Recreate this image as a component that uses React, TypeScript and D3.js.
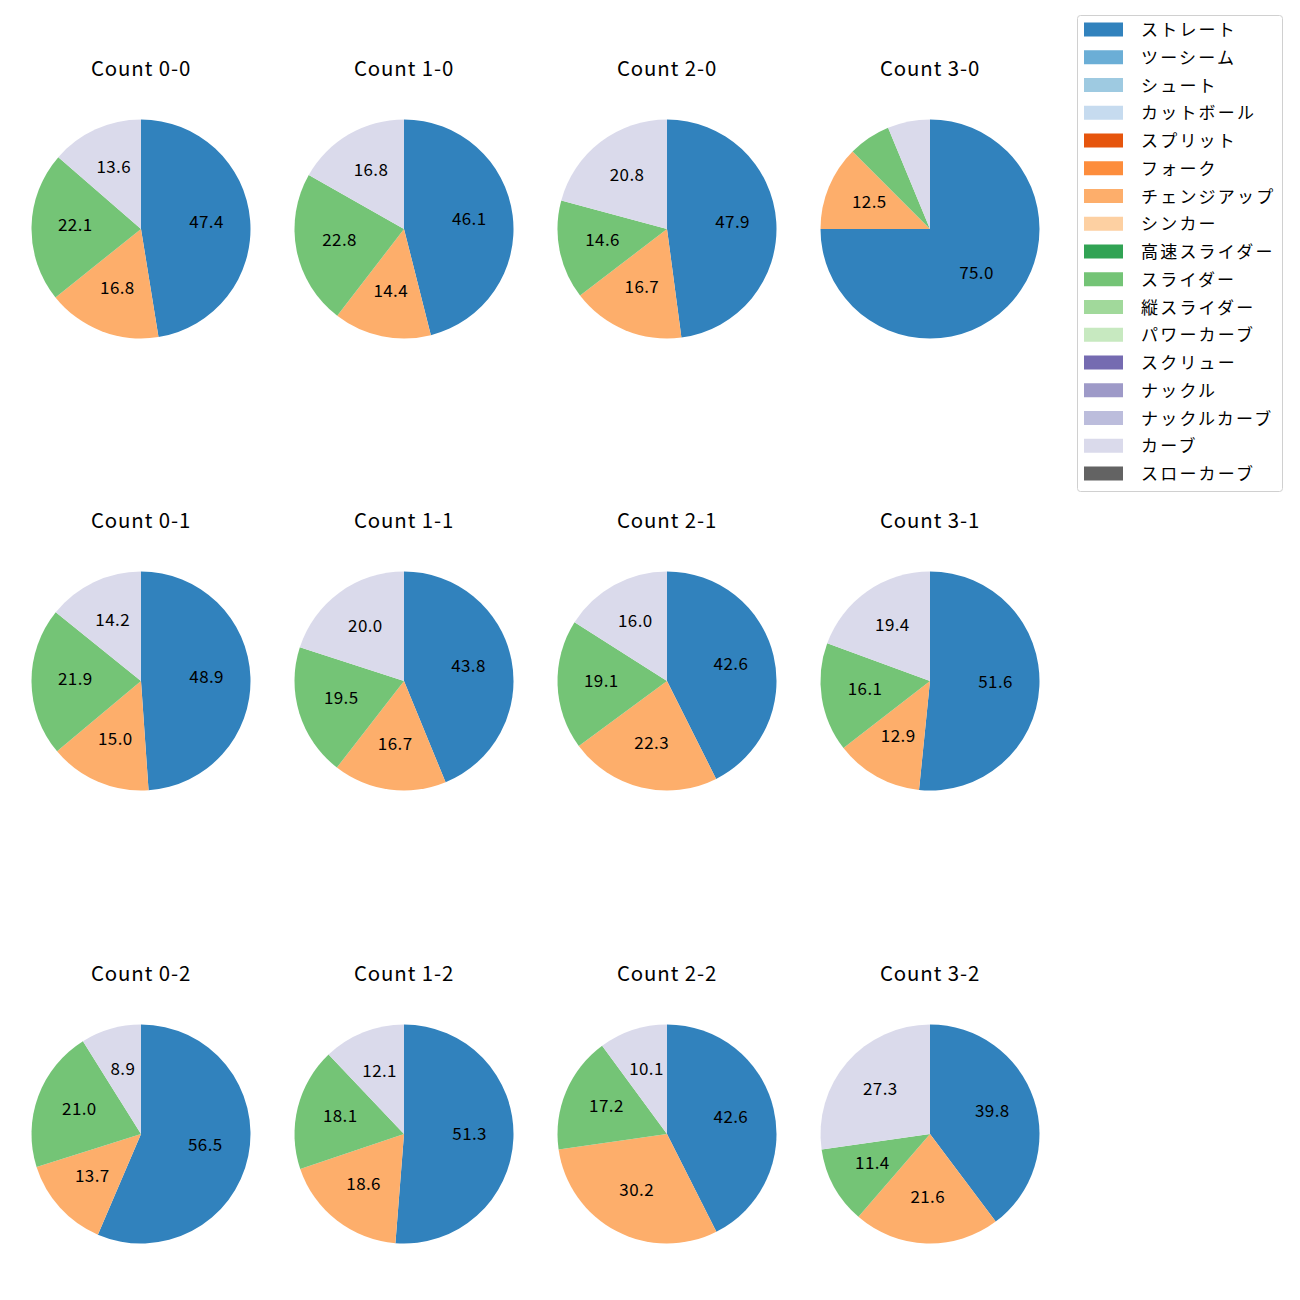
import React, { useEffect } from "react";
import * as d3 from "d3";

const pitchTypes = [
  "ストレート", "ツーシーム", "シュート", "カットボール", "スプリット", "フォーク",
  "チェンジアップ", "シンカー", "高速スライダー", "スライダー", "縦スライダー",
  "パワーカーブ", "スクリュー", "ナックル", "ナックルカーブ", "カーブ", "スローカーブ",
];
const pitchColors = [
  "#3182bd", "#6baed6", "#9ecae1", "#c6dbef", "#e6550d", "#fd8d3c",
  "#fdae6b", "#fdd0a2", "#31a354", "#74c476", "#a1d99b", "#c7e9c0",
  "#756bb1", "#9e9ac8", "#bcbddc", "#dadaeb", "#636363",
];

const usedTypes = ["ストレート", "チェンジアップ", "スライダー", "カーブ"];
const countTitles = [
  "Count 0-0", "Count 1-0", "Count 2-0", "Count 3-0",
  "Count 0-1", "Count 1-1", "Count 2-1", "Count 3-1",
  "Count 0-2", "Count 1-2", "Count 2-2", "Count 3-2",
];
const straightPct = [47.4, 46.1, 47.9, 75.0, 48.9, 43.8, 42.6, 51.6, 56.5, 51.3, 42.6, 39.8];
const changeupPct = [16.8, 14.4, 16.7, 12.5, 15.0, 16.7, 22.3, 12.9, 13.7, 18.6, 30.2, 21.6];
const sliderPct = [22.1, 22.8, 14.6, 6.25, 21.9, 19.5, 19.1, 16.1, 21.0, 18.1, 17.2, 11.4];
const curvePct = [13.6, 16.8, 20.8, 6.25, 14.2, 20.0, 16.0, 19.4, 8.9, 12.1, 10.1, 27.3];

const LABEL_MIN = 8;
const FONT = "'Noto Sans CJK JP', 'Noto Sans', sans-serif";

export default function App() {
  const ref = React.useRef<SVGSVGElement>(null);
  useEffect(() => {
    const svg = d3.select(ref.current);
    svg.selectAll("*").remove();
    const colX = [141, 404, 667, 930];
    const rowY = [229, 681, 1134];
    const R = 109.5;
    const color = d3.scaleOrdinal<string, string>().domain(pitchTypes).range(pitchColors);
    const pie = d3.pie<number>().sort(null).startAngle(0).endAngle(2 * Math.PI);
    const arc = d3.arc<d3.PieArcDatum<number>>().innerRadius(0).outerRadius(R);

    countTitles.forEach((title, i) => {
      const cx = colX[i % 4];
      const cy = rowY[Math.floor(i / 4)];
      const vals = [straightPct[i], changeupPct[i], sliderPct[i], curvePct[i]];
      const g = svg.append("g").attr("transform", `translate(${cx},${cy})`);
      const arcs = pie(vals);
      g.selectAll("path").data(arcs).enter().append("path")
        .attr("d", arc)
        .attr("fill", (_d, j) => color(usedTypes[j]));
      arcs.forEach((a) => {
        if (a.data < LABEL_MIN) return;
        const mid = (a.startAngle + a.endAngle) / 2;
        const r = R * 0.6;
        g.append("text")
          .attr("x", r * Math.sin(mid))
          .attr("y", -r * Math.cos(mid) + 3.8)
          .attr("text-anchor", "middle")
          .attr("font-family", FONT)
          .attr("font-size", 17)
          .attr("letter-spacing", 0.4)
          .attr("fill", "#000")
          .text(a.data.toFixed(1));
      });
      svg.append("text")
        .attr("x", cx)
        .attr("y", cy - 153.5)
        .attr("text-anchor", "middle")
        .attr("font-family", FONT)
        .attr("font-size", 20.4)
        .attr("letter-spacing", 0.9)
        .attr("fill", "#000")
        .text(title);
    });

    // legend
    const lg = svg.append("g");
    lg.append("rect")
      .attr("x", 1077.5).attr("y", 15.5).attr("width", 205).attr("height", 476)
      .attr("rx", 3).attr("fill", "#fff").attr("fill-opacity", 0.8)
      .attr("stroke", "#d0d0d0").attr("stroke-width", 1);
    pitchTypes.forEach((p, k) => {
      const y = 29.5 + k * 27.75;
      lg.append("rect").attr("x", 1084).attr("y", y - 7).attr("width", 39).attr("height", 14)
        .attr("fill", color(p));
      lg.append("text").attr("x", 1141).attr("y", y - 0.8)
        .attr("dominant-baseline", "central")
        .attr("font-family", FONT).attr("font-size", 17).attr("letter-spacing", 2.2).attr("fill", "#000")
        .text(p);
    });
  }, []);
  return (
    <div style={{ position: "absolute", left: 0, top: 0 }}>
      <svg ref={ref} width={1300} height={1300} style={{ background: "#fff", display: "block" }} />
    </div>
  );
}
